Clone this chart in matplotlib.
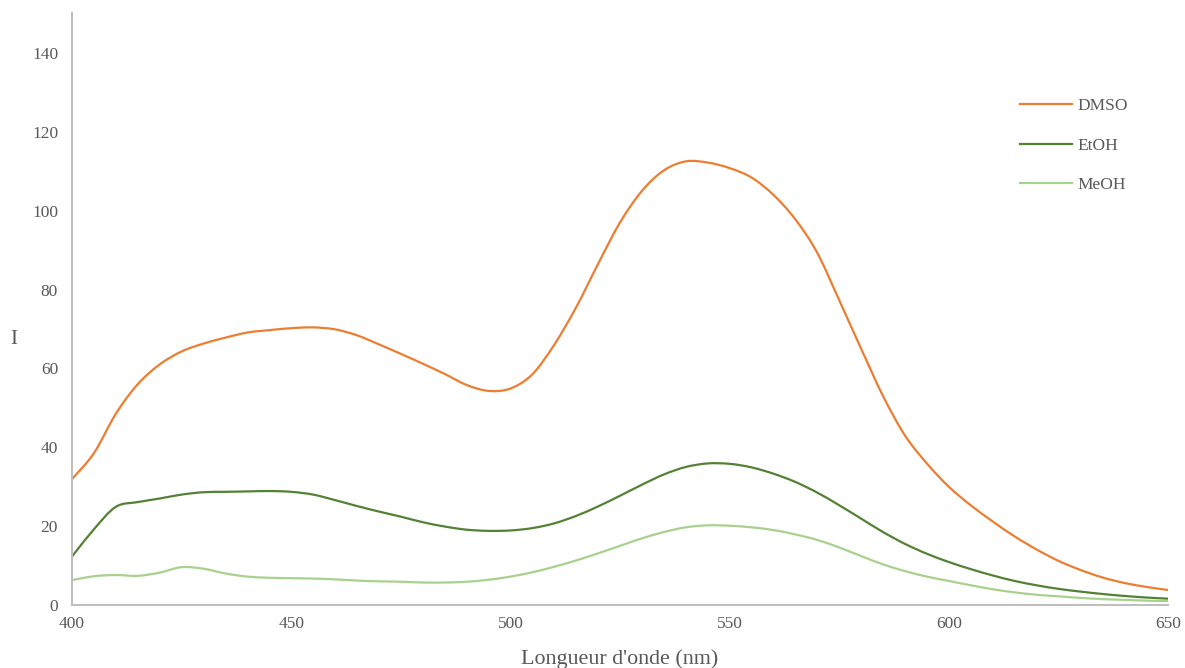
import numpy as np
import matplotlib
matplotlib.use('Agg')
import matplotlib.pyplot as plt
from matplotlib.path import Path
from matplotlib.patches import PathPatch
from matplotlib.lines import Line2D

#--------------------------------------------------------------------------------
# Du lieu doc tu hinh (buoc 5 nm)
#--------------------------------------------------------------------------------
wavelength = np.arange(400, 651, 5)

dmso = [31.9, 38.5, 48.5, 56.0, 61.0, 64.3, 66.3, 67.8, 69.1, 69.7,
        70.2, 70.4, 69.9, 68.4, 66.1, 63.7, 61.2, 58.6, 55.8, 54.3,
        54.9, 58.5, 66.0, 75.5, 86.5, 97.0, 105.0, 110.2, 112.5, 112.2,
        110.8, 108.4, 104.0, 97.8, 89.3, 77.3, 65.0, 53.0, 43.0, 35.9,
        30.0, 25.3, 21.2, 17.4, 14.1, 11.2, 8.9, 7.0, 5.6, 4.6,
        3.8]

etoh = [12.3, 19.2, 24.9, 26.1, 27.0, 28.0, 28.6, 28.7, 28.8, 28.9,
        28.7, 28.0, 26.6, 25.1, 23.7, 22.4, 21.0, 19.9, 19.1, 18.8,
        18.9, 19.5, 20.7, 22.6, 25.0, 27.7, 30.5, 33.1, 35.0, 35.9,
        35.8, 34.9, 33.3, 31.2, 28.5, 25.3, 21.9, 18.5, 15.5, 13.0,
        10.9, 9.1, 7.5, 6.1, 5.0, 4.1, 3.4, 2.8, 2.3, 1.9,
        1.6]

meoh = [6.3, 7.3, 7.6, 7.4, 8.2, 9.6, 9.2, 8.0, 7.2, 6.9,
        6.8, 6.7, 6.5, 6.2, 6.0, 5.9, 5.7, 5.7, 5.9, 6.4,
        7.2, 8.3, 9.7, 11.3, 13.1, 15.0, 16.9, 18.5, 19.7, 20.2,
        20.1, 19.7, 19.0, 17.9, 16.5, 14.6, 12.4, 10.3, 8.6, 7.2,
        6.1, 5.0, 4.0, 3.2, 2.6, 2.2, 1.8, 1.5, 1.3, 1.1,
        1.0]

labels = ['DMSO', 'EtOH', 'MeOH']
colors = ['#ED7D31', '#548235', '#A9D18E']
xticks = [400, 450, 500, 550, 600, 650]
yticks = [0, 20, 40, 60, 80, 100, 120, 140]

#--------------------------------------------------------------------------------
# Duong cong tron kieu Excel (Bezier qua cac diem du lieu)
#--------------------------------------------------------------------------------
def DuongCongTron(x, y):
    P = np.column_stack([x, y]).astype(float)
    n = len(P)
    m = np.zeros_like(P)
    m[1:-1] = (P[2:] - P[:-2]) / 2
    m[0] = P[1] - P[0]
    m[-1] = P[-1] - P[-2]
    verts = [P[0]]
    codes = [Path.MOVETO]
    for i in range(n - 1):
        verts += [P[i] + m[i] / 3, P[i + 1] - m[i + 1] / 3, P[i + 1]]
        codes += [Path.CURVE4] * 3
    return Path(verts, codes)

#--------------------------------------------------------------------------------
# Ve bieu do
#--------------------------------------------------------------------------------
plt.rcParams['font.family'] = ['Liberation Serif', 'DejaVu Serif']
textcolor = '#595959'

fig = plt.figure(figsize=(11.85, 6.68), dpi=100)
ax = fig.add_axes([72/1185, 63/668, (1168-72)/1185, (605-13.5)/668])

handles = []
for y, lab, c in zip([dmso, etoh, meoh], labels, colors):
    patch = PathPatch(DuongCongTron(wavelength, y), facecolor='none',
                      edgecolor=c, linewidth=1.6, capstyle='round')
    ax.add_patch(patch)
    handles.append(Line2D([], [], color=c, linewidth=1.6, label=lab))

ax.set_xlim(400, 650)
ax.set_ylim(0, 150)
ax.set_xticks(xticks)
ax.set_yticks(yticks)
ax.tick_params(axis='both', length=0, labelsize=12.5, colors=textcolor)
ax.tick_params(axis='y', pad=10)
ax.tick_params(axis='x', pad=8)

for s in ['top', 'right']:
    ax.spines[s].set_visible(False)
for s in ['left', 'bottom']:
    ax.spines[s].set_color('#BFBFBF')
    ax.spines[s].set_linewidth(1.5)

ax.set_xlabel("Longueur d'onde (nm)", fontsize=15.8, color=textcolor, labelpad=12)
ax.set_ylabel('I', fontsize=15, color=textcolor, rotation=0, va='center', labelpad=0)
ax.yaxis.set_label_coords(-58/1096, (605-340)/591.5)

leg = ax.legend(handles=handles, loc='upper left',
                bbox_to_anchor=(1020/1185, 1-98/668),
                bbox_transform=fig.transFigure, frameon=False,
                fontsize=12.5, handlelength=3.0, handletextpad=0.3,
                labelspacing=1.35, borderpad=0, borderaxespad=0)
for t in leg.get_texts():
    t.set_color(textcolor)

fig.savefig('out.png', dpi=100)
